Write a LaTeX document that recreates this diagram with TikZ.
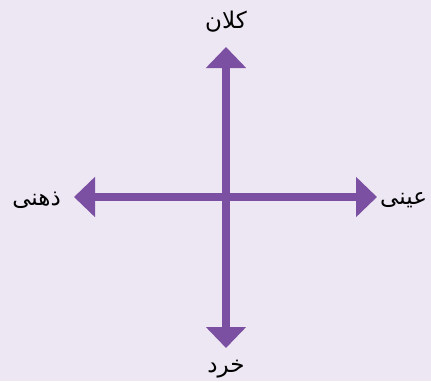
\documentclass[tikz,border=0pt]{standalone}
\usepackage{fontspec}
\usetikzlibrary{arrows.meta}
\TeXXeTstate=1
\newfontfamily\arabicfont[Script=Arabic]{DejaVu Sans}
\definecolor{bgcol}{HTML}{EDE6F3}
\definecolor{axiscol}{HTML}{7B4FA1}
\tikzset{
  axis/.style={line width=8pt, draw=axiscol,
    {Triangle[width=39pt,length=21pt]}-{Triangle[width=39pt,length=21pt]}},
  lbl/.style={font=\arabicfont\fontsize{23}{27}\selectfont, text=black, inner sep=0pt}
}
\begin{document}
\begin{tikzpicture}[x=1pt,y=-1pt]
  \fill[bgcol] (0,0) rectangle (431,381);
  \useasboundingbox (0,0) rectangle (431,381);
  \coordinate (top) at (226,47);
  \coordinate (bot) at (226,348);
  \coordinate (lft) at (74,197);
  \coordinate (rgt) at (377,197);
  \draw[axis] (lft) -- (rgt);
  \draw[axis] (bot) -- (top);
  \node[lbl] (kalan) at (226,22) {\beginR کلان\endR};
  \node[lbl, anchor=east] (zehni) at (61,200) {\beginR ذهنی\endR};
  \node[lbl, anchor=west] (eini) at (380,200) {\beginR عینی\endR};
  \node[lbl] (khord) at (226,369) {\beginR خرد\endR};
\end{tikzpicture}
\end{document}
